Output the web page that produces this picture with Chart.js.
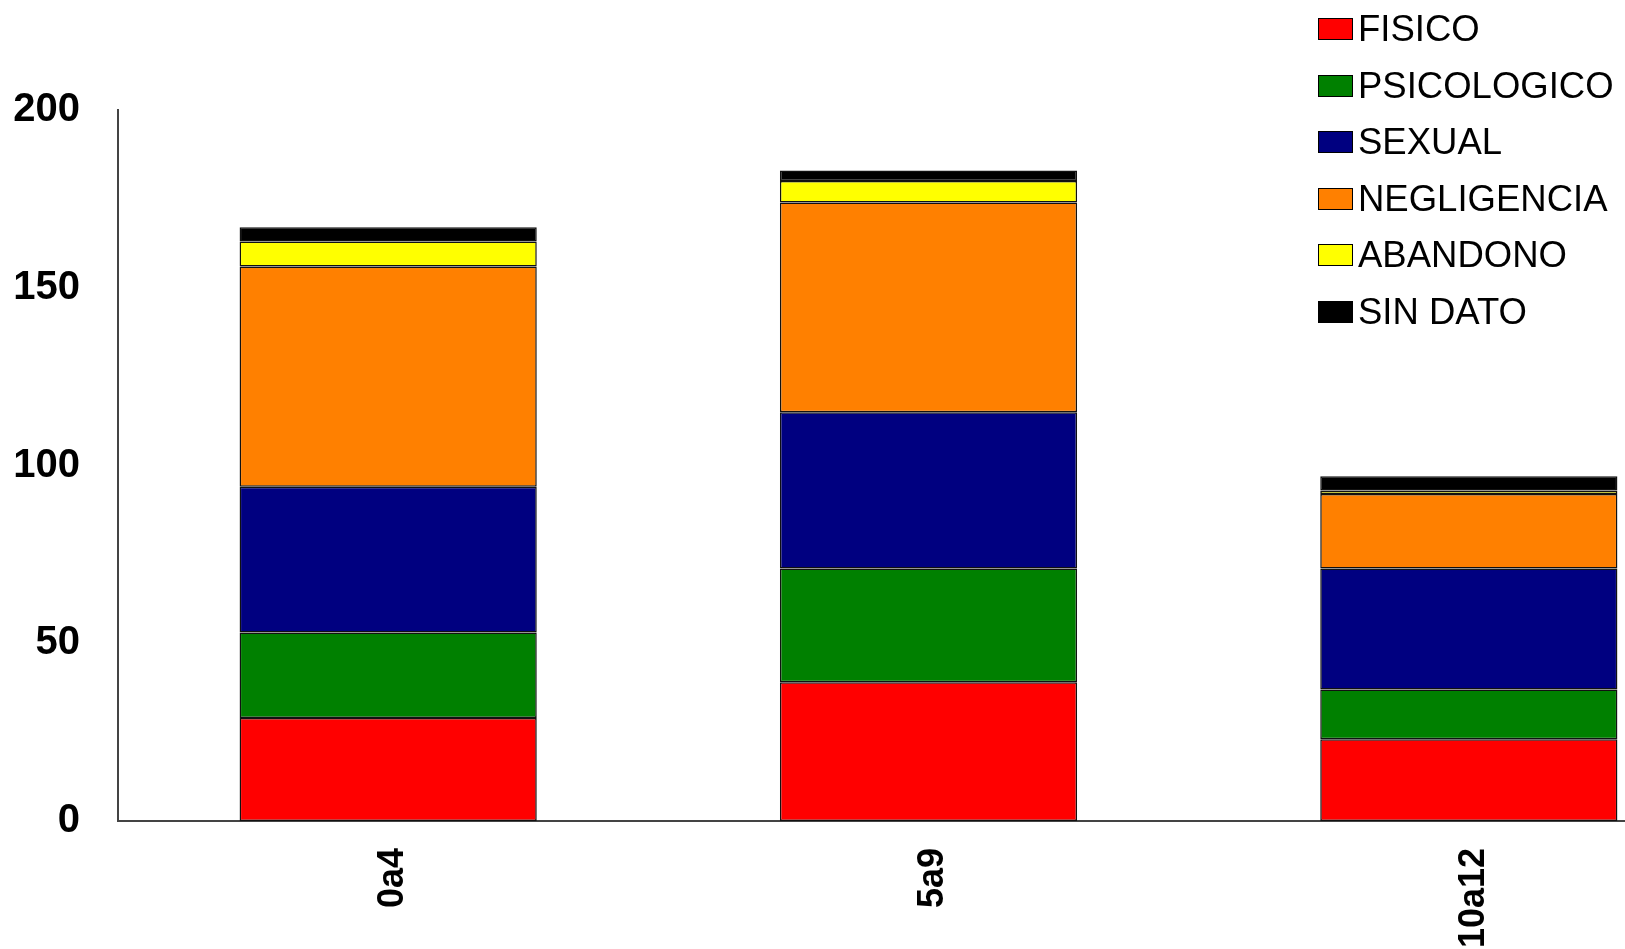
<!DOCTYPE html>
<html>
<head>
<meta charset="utf-8">
<script src="https://cdn.jsdelivr.net/npm/chart.js@4/dist/chart.umd.min.js"></script>
<style>
  html, body { margin: 0; padding: 0; background: #fff; overflow: hidden; }
  #wrap { position: absolute; left: 0; top: 0; width: 1739px; height: 949px; }
  #legend { position: absolute; left: 1318px; top: 1px; font-family: "Liberation Sans", Arial, sans-serif; font-size: 36.5px; color: #000; }
  #legend .row { height: 56.5px; line-height: 56.5px; white-space: nowrap; display: flex; align-items: center; }
  #legend .box { width: 33px; height: 20px; border: 1px solid #000; margin-right: 5px; }
</style>
</head>
<body>
<div id="wrap"><canvas id="chart" width="1739" height="949"></canvas></div>
<div id="legend"></div>
<script>
const categories = ["0a4", "5a9", "10a12"];
const seriesNames = ["FISICO", "PSICOLOGICO", "SEXUAL", "NEGLIGENCIA", "ABANDONO", "SIN DATO"];
const seriesColors = ["#ff0000", "#008000", "#000080", "#ff8000", "#ffff00", "#000000"];

const fisico = [29, 39, 23];
const psicologico = [24, 32, 14];
const sexual = [41, 44, 34];
const negligencia = [62, 59, 21];
const abandono = [7, 6, 1];
const sinDato = [4, 3, 4];

const yTicks = [0, 50, 100, 150, 200];

const seriesValues = [fisico, psicologico, sexual, negligencia, abandono, sinDato];
const FONT = "'Liberation Sans', Arial, sans-serif";

const datasets = seriesNames.map((name, i) => ({
  label: name,
  data: seriesValues[i],
  backgroundColor: seriesColors[i],
  borderColor: "#111",
  borderWidth: 1.5,
  borderSkipped: false,
  categoryPercentage: 1,
  barPercentage: 0.55,
}));

new Chart(document.getElementById("chart").getContext("2d"), {
  type: "bar",
  data: { labels: categories, datasets },
  options: {
    responsive: false,
    animation: false,
    devicePixelRatio: 1,
    layout: { padding: { top: 110, left: 0, right: 0, bottom: 0 } },
    plugins: { legend: { display: false }, tooltip: { enabled: false } },
    scales: {
      x: {
        stacked: true,
        grid: { display: false, drawTicks: false },
        border: { display: true, color: "#444", width: 2 },
        ticks: {
          color: "#000",
          font: { family: FONT, size: 36, weight: "bold" },
          minRotation: 90,
          maxRotation: 90,
          padding: 27,
          labelOffset: 5,
        },
        afterFit: (scale) => { scale.height = 128; },
      },
      y: {
        stacked: true,
        min: yTicks[0],
        max: yTicks[yTicks.length - 1],
        grid: { display: false, drawTicks: false },
        border: { display: true, color: "#444", width: 2 },
        afterBuildTicks: (scale) => { scale.ticks = yTicks.map((v) => ({ value: v })); },
        ticks: {
          color: "#000",
          font: { family: FONT, size: 40, weight: "bold" },
          padding: 38,
        },
        afterFit: (scale) => { scale.width = 118; },
      },
    },
  },
});

const legend = document.getElementById("legend");
seriesNames.forEach((name, i) => {
  const row = document.createElement("div");
  row.className = "row";
  const box = document.createElement("span");
  box.className = "box";
  box.style.background = seriesColors[i];
  const label = document.createElement("span");
  label.textContent = name;
  row.appendChild(box);
  row.appendChild(label);
  legend.appendChild(row);
});
</script>
</body>
</html>
